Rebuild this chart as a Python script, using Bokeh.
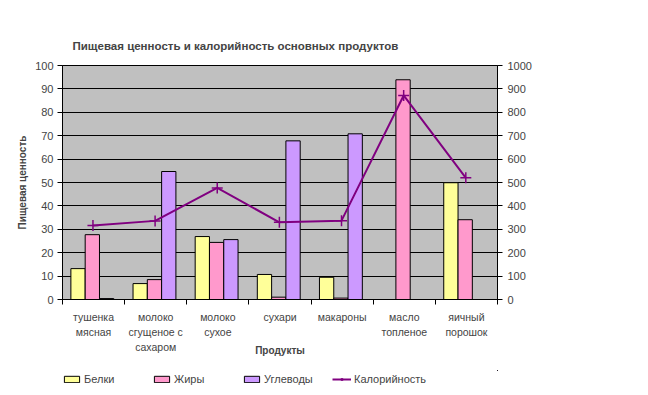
from bokeh.plotting import figure
from bokeh.layouts import column
from bokeh.models import (Range1d, LinearAxis, FixedTicker, Legend, LegendItem, Plot,
                          ColumnDataSource, VBar, Line, Scatter)
from bokeh.embed import file_html
from bokeh.resources import INLINE

categories = ["тушенка\nмясная", "молоко\nсгущеное с\nсахаром", "молоко\nсухое",
              "сухари", "макароны", "масло\nтопленое", "яичный\nпорошок"]
belki = [13.2, 6.8, 26.9, 10.7, 9.5, 0.0, 49.9]
zhiry = [27.7, 8.5, 24.4, 1.0, 0.6, 93.9, 34.1]
uglevody = [0.4, 54.7, 25.6, 67.8, 70.8, 0.0, 0.0]
kaloriynost = [316, 336, 477, 330, 337, 872, 520]
left_ticks = list(range(0, 101, 10))
right_ticks = list(range(0, 1001, 100))
series_names = ["Белки", "Жиры", "Углеводы", "Калорийность"]

FONT = "Liberation Sans"
C_B, C_Z, C_U, C_K = "#FFFF99", "#FF99CC", "#CC99FF", "#800080"
n = len(categories)
centers = [i + 0.48 for i in range(n)]
lx = [i + 0.49 for i in range(n)]
bw = 0.23

p = figure(width=648, height=370, x_range=Range1d(0, n), y_range=Range1d(0, 100),
           output_backend="svg", toolbar_location=None,
           background_fill_color="#C0C0C0", border_fill_color="white",
           min_border_left=62, min_border_right=151, min_border_top=65, min_border_bottom=71,
           outline_line_color="black")
p.extra_y_ranges = {"cal": Range1d(0, 1000)}

p.title.text = "Пищевая ценность и калорийность основных продуктов"
p.title.text_font = FONT
p.title.text_font_size = "11.5px"
p.title.text_font_style = "bold"
p.title.align = "left"
p.title.offset = 10
p.title.standoff = 28

p.vbar(x=[c - bw for c in centers], top=belki, width=bw, fill_color=C_B, line_color="black")
p.vbar(x=centers, top=zhiry, width=bw, fill_color=C_Z, line_color="black")
p.vbar(x=[c + bw for c in centers], top=uglevody, width=bw, fill_color=C_U, line_color="black")
p.line(x=lx, y=kaloriynost, y_range_name="cal", line_color=C_K, line_width=2)
p.scatter(x=lx, y=kaloriynost, y_range_name="cal", marker="cross", size=11,
          line_color=C_K, line_width=1.5)

p.xgrid.grid_line_color = None
p.ygrid.grid_line_color = "black"
p.ygrid.ticker = FixedTicker(ticks=left_ticks)

xa = p.xaxis[0]
xa.ticker = FixedTicker(ticks=[i + 0.5 for i in range(n)], minor_ticks=list(range(n + 1)))
xa.major_label_overrides = {i + 0.5: categories[i] for i in range(n)}
xa.major_tick_out = 0
xa.major_tick_in = 0
xa.minor_tick_out = 5
xa.minor_tick_in = 0
xa.minor_tick_line_color = "black"
xa.axis_line_color = "black"
xa.major_label_text_font = FONT
xa.major_label_text_font_size = "10.5px"
xa.major_label_text_line_height = 1.28
xa.major_label_standoff = 6
xa.axis_label = "Продукты"
xa.axis_label_text_font = FONT
xa.axis_label_text_font_size = "10px"
xa.axis_label_text_font_style = "bold"
xa.axis_label_standoff = -11

ya = p.yaxis[0]
ya.ticker = FixedTicker(ticks=left_ticks)
ya.minor_tick_line_color = None
ya.major_tick_out = 5
ya.major_tick_in = 0
ya.major_label_text_font = FONT
ya.major_label_text_font_size = "11px"
ya.major_label_standoff = 4
ya.axis_label = "Пищевая ценность"
ya.axis_label_text_font = FONT
ya.axis_label_text_font_size = "10px"
ya.axis_label_text_font_style = "bold"
ya.axis_label_standoff = 4

ra = LinearAxis(y_range_name="cal", ticker=FixedTicker(ticks=right_ticks))
ra.minor_tick_line_color = None
ra.major_tick_out = 5
ra.major_tick_in = 0
ra.major_label_text_font = FONT
ra.major_label_text_font_size = "11px"
ra.major_label_standoff = 5
p.add_layout(ra, "right")

# legend strip below the chart (proxy renderers hold the same data, kept out of view)
p2 = Plot(width=648, height=25, x_range=Range1d(-100, -99), y_range=Range1d(-100, -99),
          title=None, min_border=0, toolbar_location=None, outline_line_color=None,
          output_backend="svg", background_fill_color="white", border_fill_color="white")
src_b = ColumnDataSource(dict(x=centers, top=belki))
src_z = ColumnDataSource(dict(x=centers, top=zhiry))
src_u = ColumnDataSource(dict(x=centers, top=uglevody))
src_k = ColumnDataSource(dict(x=lx, y=kaloriynost))
g1 = p2.add_glyph(src_b, VBar(x="x", top="top", width=bw, fill_color=C_B, line_color="black"))
g2 = p2.add_glyph(src_z, VBar(x="x", top="top", width=bw, fill_color=C_Z, line_color="black"))
g3 = p2.add_glyph(src_u, VBar(x="x", top="top", width=bw, fill_color=C_U, line_color="black"))
g4 = p2.add_glyph(src_k, Line(x="x", y="y", line_color=C_K, line_width=2))
g5 = p2.add_glyph(src_k, Scatter(x="x", y="y", marker="cross", size=11, line_color=C_K,
                                 line_width=1.5))
legend = Legend(items=[LegendItem(label=series_names[0], renderers=[g1]),
                       LegendItem(label=series_names[1], renderers=[g2]),
                       LegendItem(label=series_names[2], renderers=[g3]),
                       LegendItem(label=series_names[3], renderers=[g4, g5])],
                location=(0, 10), orientation="horizontal", padding=0, margin=0,
                border_line_color=None, background_fill_alpha=0,
                glyph_width=19, glyph_height=8, label_height=12, label_width=58,
                spacing=10, label_standoff=3, label_text_font=FONT,
                label_text_font_size="11px", label_text_baseline="middle")
p2.add_layout(legend, "center")

open("out.html", "w").write(file_html(column(p, p2, spacing=0), INLINE))
